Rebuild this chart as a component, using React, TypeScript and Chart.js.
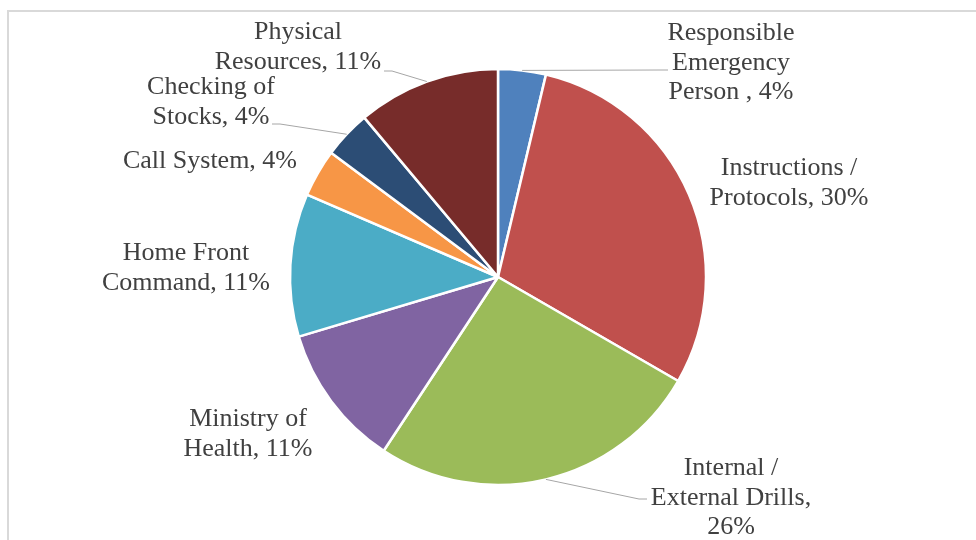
import React, { useEffect, useRef } from "react";
import { Chart, registerables } from "chart.js";

Chart.register(...registerables);

const categories = [
  "Responsible Emergency Person ",
  "Instructions / Protocols",
  "Internal / External Drills",
  "Ministry of Health",
  "Home Front Command",
  "Call System",
  "Checking of Stocks",
  "Physical Resources",
];
const counts = [1, 8, 7, 3, 3, 1, 1, 3];
const sliceColors = ["#4F81BD", "#C0504D", "#9BBB59", "#8064A2", "#4BACC6", "#F79646", "#2C4D75", "#772C2A"];
const labelTemplates = [
  "Responsible\nEmergency\nPerson , {p}",
  "Instructions /\nProtocols, {p}",
  "Internal /\nExternal Drills,\n{p}",
  "Ministry of\nHealth, {p}",
  "Home Front\nCommand, {p}",
  "Call System, {p}",
  "Checking of\nStocks, {p}",
  "Physical\nResources, {p}",
];
// label placement relative to the pie centre: [dx of text centre, dy of first baseline]
const labelOffsets: number[][] = [
  [233, -237],
  [291, -102],
  [233, 198],
  [-250, 149],
  [-312, -17],
  [-288, -109],
  [-287, -183],
  [-200, -238],
];
// leader line attach points relative to the pie centre
const leaderAttach: (number[] | null)[] = [
  [170, -207],
  null,
  [149, 222],
  null,
  null,
  null,
  [-226, -153],
  [-114, -206],
];

const FONT = '26px "Liberation Serif", "Times New Roman", serif';
const LINE_H = 29.5;

const labelPlugin = {
  id: "pieLabels",
  beforeDraw(chart: any) {
    const ctx = chart.ctx;
    ctx.save();
    ctx.strokeStyle = "#d9d9d9";
    ctx.lineWidth = 2;
    ctx.strokeRect(8, 11, 1200, 1000);
    ctx.restore();
  },
  afterDatasetsDraw(chart: any) {
    const ctx = chart.ctx;
    const meta = chart.getDatasetMeta(0);
    const data = chart.data.datasets[0].data as number[];
    const total = data.reduce((a, b) => a + b, 0);
    ctx.save();
    meta.data.forEach((arc: any, i: number) => {
      const { x, y, startAngle, endAngle, outerRadius } = arc.getProps(
        ["x", "y", "startAngle", "endAngle", "outerRadius"],
        true
      );
      const mid = (startAngle + endAngle) / 2;
      const px = x + Math.cos(mid) * outerRadius;
      const py = y + Math.sin(mid) * outerRadius;
      const att = leaderAttach[i];
      if (att) {
        const ax = x + att[0];
        const ay = y + att[1];
        const dir = px > ax ? 1 : -1;
        ctx.beginPath();
        ctx.strokeStyle = "#a6a6a6";
        ctx.lineWidth = 1;
        ctx.moveTo(ax, ay);
        ctx.lineTo(ax + dir * 8, ay);
        ctx.lineTo(px, py);
        ctx.stroke();
      }
      const pct = Math.round((data[i] / total) * 100) + "%";
      const lines = labelTemplates[i].replace("{p}", pct).split("\n");
      ctx.font = FONT;
      ctx.fillStyle = "#404040";
      ctx.textAlign = "center";
      ctx.textBaseline = "alphabetic";
      const cx = x + labelOffsets[i][0];
      const by = y + labelOffsets[i][1];
      lines.forEach((ln, k) => {
        ctx.fillText(ln, cx, by + k * LINE_H);
      });
    });
    ctx.restore();
  },
};

export default function App() {
  const ref = useRef<HTMLCanvasElement | null>(null);
  useEffect(() => {
    if (!ref.current) return;
    const chart = new Chart(ref.current, {
      type: "pie",
      data: {
        labels: categories,
        datasets: [
          {
            data: counts,
            backgroundColor: sliceColors,
            borderColor: "#ffffff",
            borderWidth: 2.5,
            radius: 208,
          } as any,
        ],
      },
      options: {
        responsive: false,
        animation: false,
        devicePixelRatio: 1,
        layout: { padding: { left: 20, right: 0, top: 14, bottom: 0 } },
        plugins: {
          legend: { display: false },
          tooltip: { enabled: false },
        },
      },
      plugins: [labelPlugin],
    });
    return () => chart.destroy();
  }, []);
  return (
    <div style={{ position: "absolute", left: 0, top: 0, width: 976, height: 540, background: "#fff" }}>
      <canvas ref={ref} width={976} height={540} style={{ display: "block" }} />
    </div>
  );
}
